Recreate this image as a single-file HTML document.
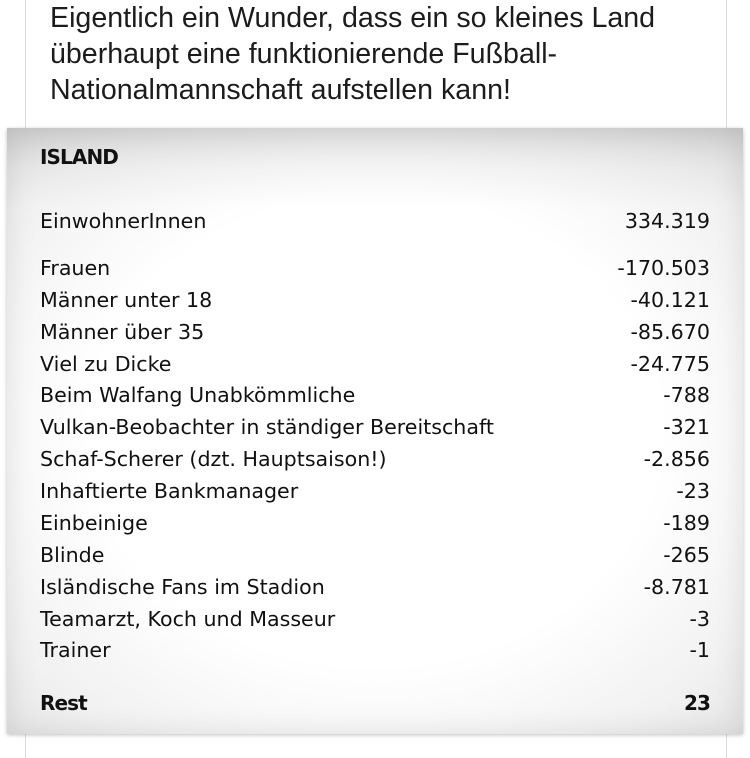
<!DOCTYPE html>
<html>
<head>
<meta charset="utf-8">
<style>
html,body{margin:0;padding:0;}
body{width:750px;height:745px;position:relative;overflow:hidden;background:#fff;}
.card{position:absolute;left:25px;top:-2px;width:700px;height:760px;border-left:1px solid #dcdcdc;border-right:1px solid #dcdcdc;background:#fff;}
.hdr{position:absolute;left:50px;top:0px;font-family:"Liberation Sans",sans-serif;font-size:28.6px;line-height:36px;color:#1c1c1c;white-space:nowrap;}
.box{position:absolute;left:7px;top:128px;width:736px;height:606px;
 background:
  linear-gradient(to bottom, rgba(0,0,0,0.10) 0px, rgba(0,0,0,0.03) 40px, rgba(0,0,0,0) 80px),
  radial-gradient(ellipse at 50% 50%, #ffffff 55%, #f1f1f1 85%, #e6e6e6 100%);
 box-shadow: inset 0 0 30px rgba(0,0,0,0.10), 0 1px 4px rgba(0,0,0,0.25);}
.r{position:absolute;left:40px;width:670px;height:24px;line-height:24px;font-family:"DejaVu Sans","Liberation Sans",sans-serif;font-size:20.6px;color:#111;white-space:nowrap;}
.r span{position:absolute;right:0;top:0;}
.b{font-weight:bold;font-size:20px;letter-spacing:-0.9px;}
</style>
</head>
<body>
<div class="card"></div>
<div class="hdr">Eigentlich ein Wunder, dass ein so kleines Land<br>überhaupt eine funktionierende Fußball-<br>Nationalmannschaft aufstellen kann!</div>
<div class="box"></div>
<div class="r b" style="top:145px;">ISLAND</div>
<div class="r" style="top:209px;">EinwohnerInnen<span>334.319</span></div>
<div class="r" style="top:256px;">Frauen<span>-170.503</span></div>
<div class="r" style="top:288px;">Männer unter 18<span>-40.121</span></div>
<div class="r" style="top:320px;">Männer über 35<span>-85.670</span></div>
<div class="r" style="top:352px;">Viel zu Dicke<span>-24.775</span></div>
<div class="r" style="top:383px;">Beim Walfang Unabkömmliche<span>-788</span></div>
<div class="r" style="top:415px;">Vulkan-Beobachter in ständiger Bereitschaft<span>-321</span></div>
<div class="r" style="top:447px;">Schaf-Scherer (dzt. Hauptsaison!)<span>-2.856</span></div>
<div class="r" style="top:479px;">Inhaftierte Bankmanager<span>-23</span></div>
<div class="r" style="top:511px;">Einbeinige<span>-189</span></div>
<div class="r" style="top:543px;">Blinde<span>-265</span></div>
<div class="r" style="top:575px;">Isländische Fans im Stadion<span>-8.781</span></div>
<div class="r" style="top:607px;">Teamarzt, Koch und Masseur<span>-3</span></div>
<div class="r" style="top:638px;">Trainer<span>-1</span></div>
<div class="r b" style="top:691px;">Rest<span>23</span></div>
</body>
</html>
